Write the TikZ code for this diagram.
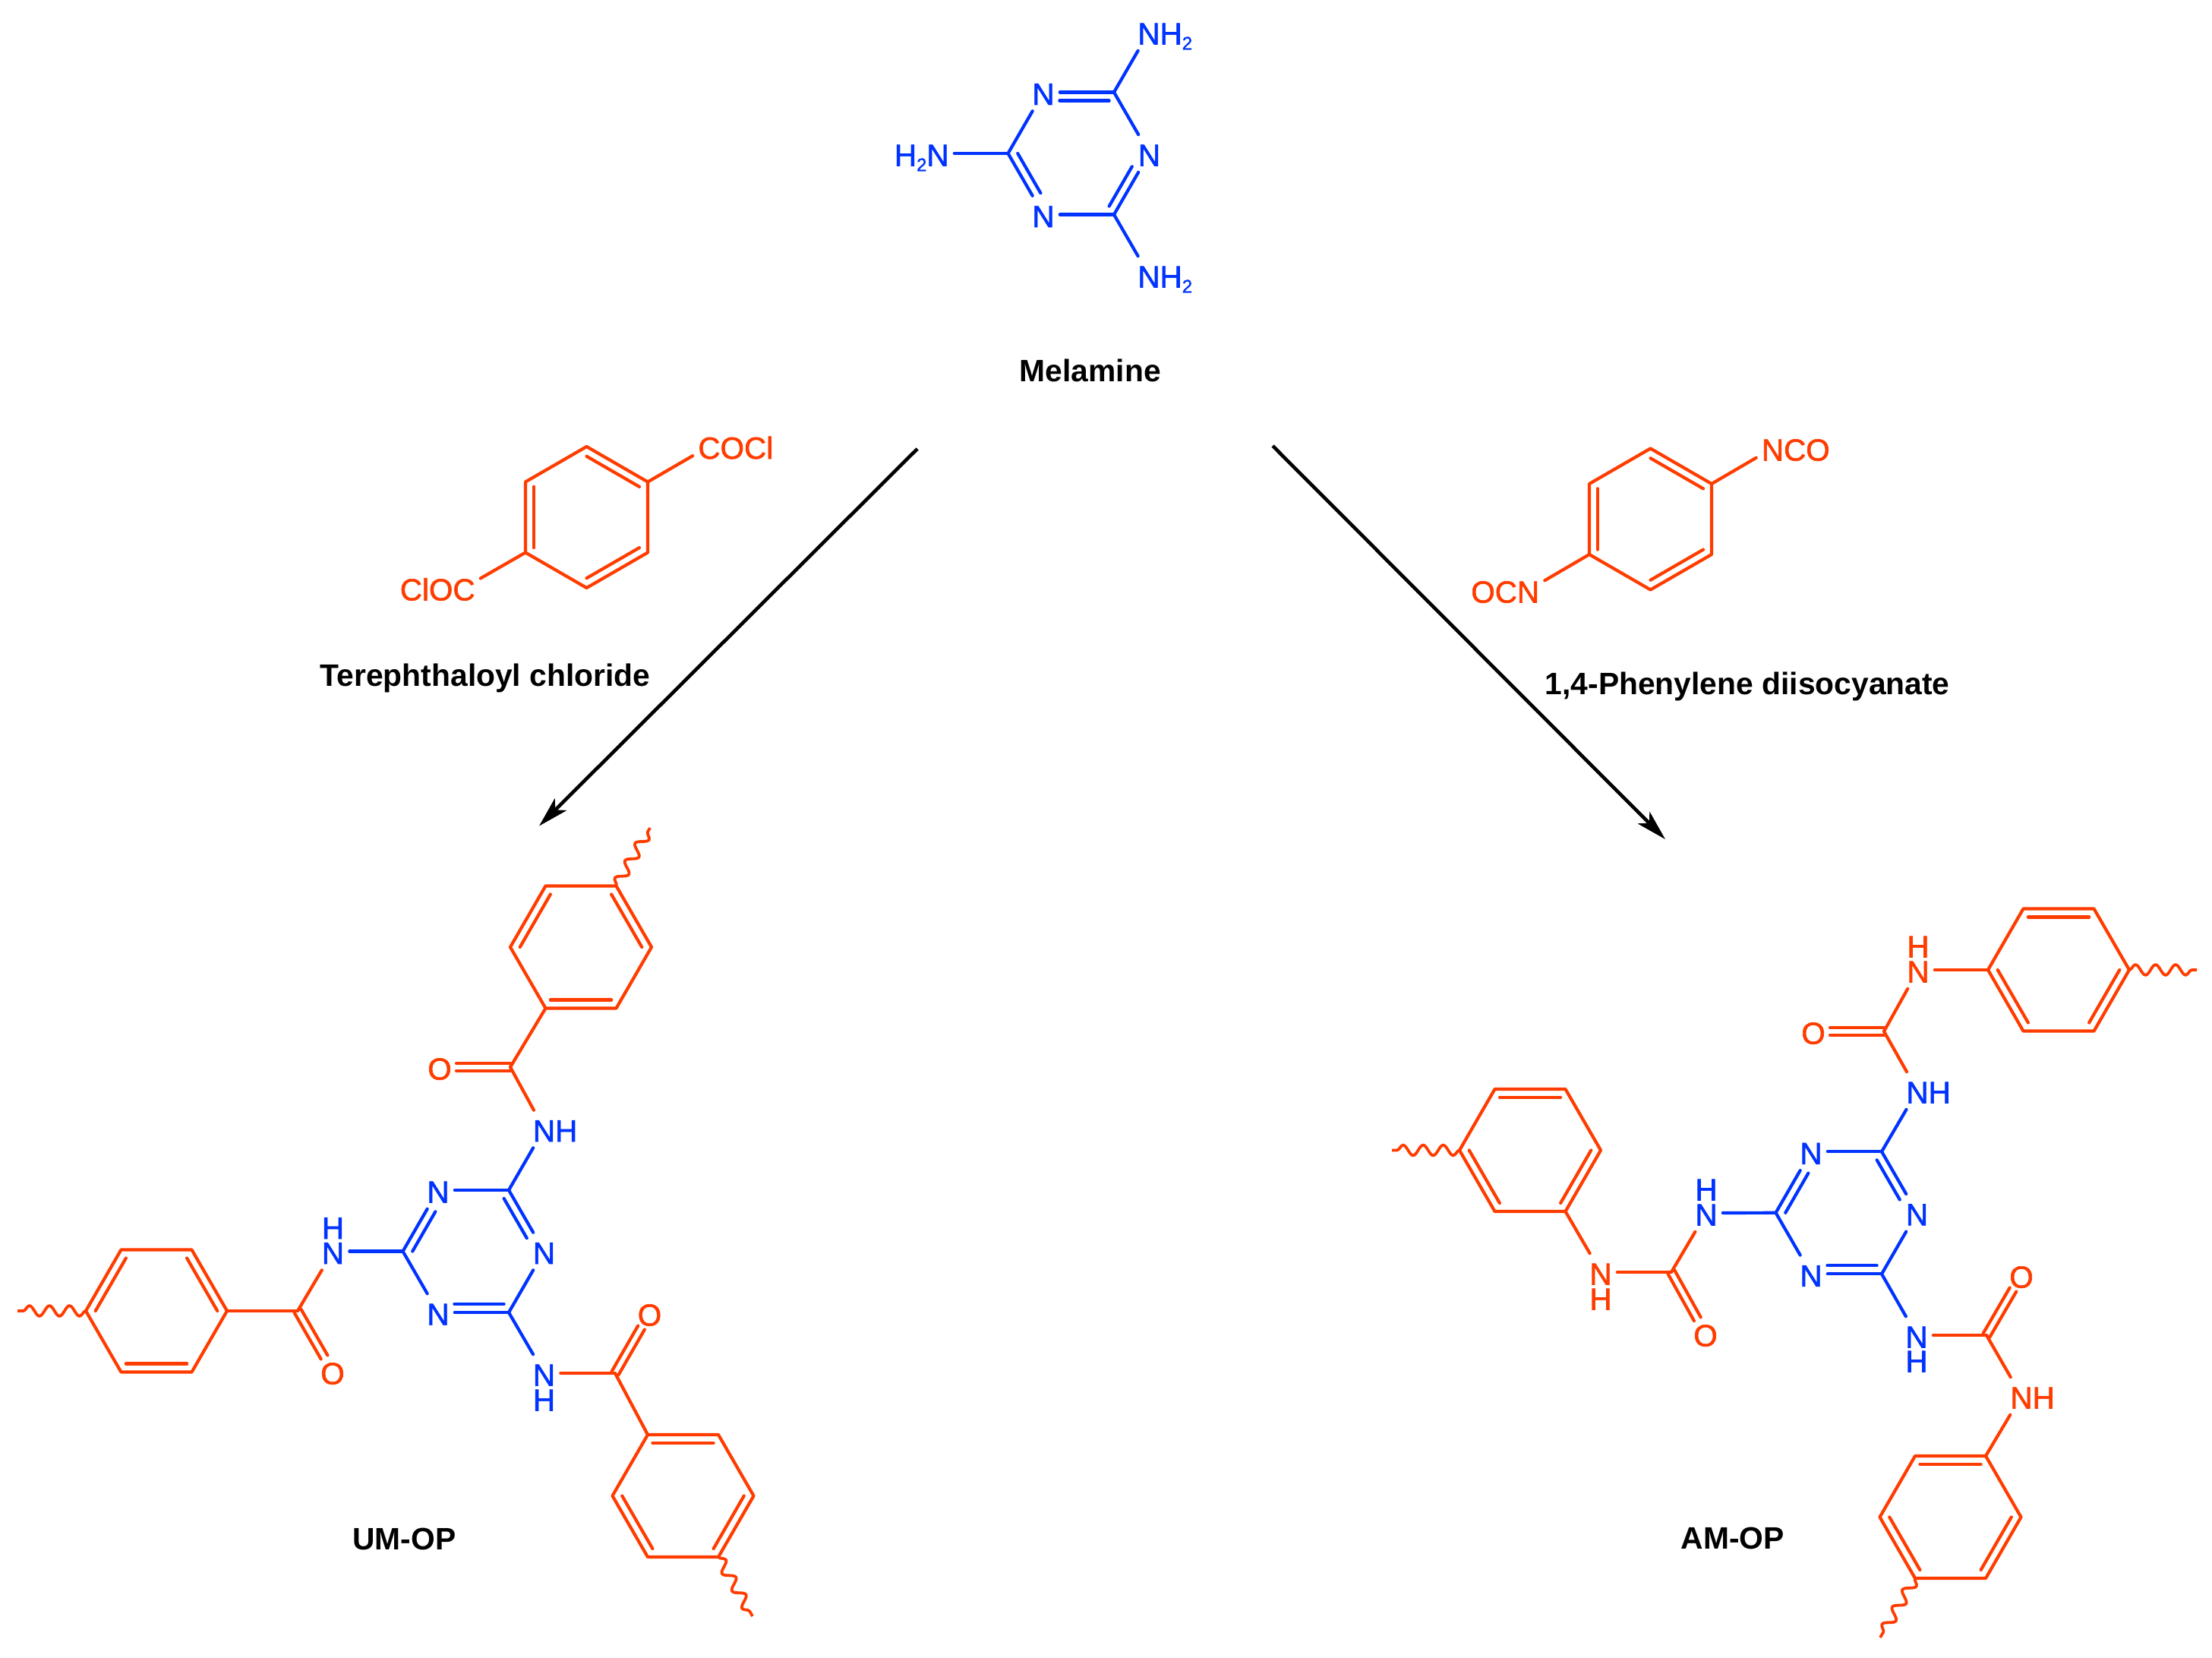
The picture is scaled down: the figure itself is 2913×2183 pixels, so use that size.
\documentclass[tikz,border=0pt]{standalone}
\usepackage{fontspec}
\setmainfont{Liberation Sans}
\newfontfamily\atomfont[FakeBold=1.5]{Liberation Sans}
\usetikzlibrary{calc,arrows.meta,decorations.pathmorphing}
\definecolor{molblue}{RGB}{0,51,255}
\definecolor{molred}{RGB}{255,60,0}
\tikzset{
  bb/.style={draw=molblue,line width=1.05pt,line cap=round,line join=round},
  rb/.style={draw=molred,line width=1.05pt,line cap=round,line join=round},
  atom/.style={rectangle,inner sep=0pt,minimum width=10.5pt,minimum height=12pt,text height=8.25pt,text depth=0pt,font=\fontsize{10.1pt}{12pt}\atomfont},
  batom/.style={atom,text=molblue},
  ratom/.style={atom,text=molred},
  title/.style={inner sep=0pt,anchor=base west,font=\fontsize{10.2pt}{12pt}\selectfont\bfseries,text=black},
  wave/.style={draw=molred,line width=0.95pt,decorate,decoration={snake,segment length=6.6pt,amplitude=1.7pt}},
  rxn/.style={draw=black,line width=1.15pt,-{Stealth[length=10pt,width=5.5pt,inset=2.5pt]}}
}
\newcommand{\hexa}[4]{\coordinate (#1) at (#2,#3);
  \foreach \i in {1,...,6} {\coordinate (#1\i) at ($(#1)+({#4+60*\i}:93)$);}}
\newcommand{\hexo}[1]{\draw[rb] (#11)--(#12)--(#13)--(#14)--(#15)--(#16)--cycle;}
\newcommand{\ringin}[4][rb]{\draw[#1] ($(#2)!0.863!(#2#3)$) -- ($(#2)!0.863!(#2#4)$);}
\newcommand{\cdouble}[2]{%
  \draw[rb,shorten >=5.5pt] ($(#1)!1.25pt!90:(#2.center)$) -- ($(#2.center)!1.25pt!-90:(#1)$);
  \draw[rb,shorten >=5.5pt] ($(#1)!1.25pt!-90:(#2.center)$) -- ($(#2.center)!1.25pt!90:(#1)$);}
\newcommand{\subtwo}{\raisebox{-1.7pt}{\fontsize{6pt}{6pt}\selectfont 2}}
\begin{document}
\begin{tikzpicture}[x=0.25pt,y=-0.25pt]
\useasboundingbox (0,0) rectangle (2913,2183);

% ---------- Melamine ----------
\hexa{m}{1420.5}{202}{0}
\node[batom] (mN4) at (m4) {N};
\node[batom] (mN6) at (m6) {N};
\node[batom] (mN2) at (m2) {N};
\node[batom] (mA) at (1513,42) {N\rlap{H\subtwo}};
\node[batom] (mB) at (1513,362) {N\rlap{H\subtwo}};
\node[batom] (mC) at (1235,202) {\llap{H\subtwo}N};
\draw[bb] (mN4) -- (m5);
\draw[bb] (m5) -- (mN6);
\draw[bb] (mN6) -- (m1);
\draw[bb] (m1) -- (mN2);
\draw[bb] (mN2) -- (m3);
\draw[bb] (m3) -- (mN4);
\draw[bb] (m5) -- (mA);
\draw[bb] (m1) -- (mB);
\draw[bb] (m3) -- (mC);
\draw[bb,shorten <=3.75pt] ($(m)!0.863!(m4)$) -- ($(m)!0.863!(m5)$);
\draw[bb,shorten >=5pt] ($(m)!0.863!(m3)$) -- ($(m)!0.863!(m2)$);
\draw[bb,shorten <=5pt] ($(m)!0.863!(m6)$) -- ($(m)!0.863!(m1)$);
\node[title] (lMel) at (1342,502) {Melamine};

% ---------- Terephthaloyl chloride ----------
\hexa{t}{772.5}{681}{30}
\hexo{t}
\ringin{t}{4}{5}
\ringin{t}{3}{2}
\ringin{t}{6}{1}
\node[ratom] (tA) at (934,587.5) {C\rlap{OCl}};
\node[ratom] (tB) at (611,774) {\llap{ClO}C};
\draw[rb] (t5) -- (tA);
\draw[rb] (t2) -- (tB);
\node[title] (lTer) at (421,903.6) {Terephthaloyl chloride};

% ---------- Isocyanate ----------
\hexa{c}{2173.5}{683.5}{30}
\hexo{c}
\ringin{c}{4}{5}
\ringin{c}{3}{2}
\ringin{c}{6}{1}
\node[ratom] (cA) at (2334.5,590) {N\rlap{CO}};
\node[ratom] (cB) at (2012.5,777) {\llap{OC}N};
\draw[rb] (c5) -- (cA);
\draw[rb] (c2) -- (cB);
\node[title] (lIso) at (2034,914) {1,4-Phenylene diisocyanate};

% ---------- Arrows ----------
\coordinate (aS) at (1208,591);
\coordinate (aE) at (710,1087.5);
\coordinate (bS) at (1676,587);
\coordinate (bE) at (2193,1105);
\draw[rxn] (aS) -- (aE);
\draw[rxn] (bS) -- (bE);

% ---------- UM-OP ----------
\hexa{u}{623.5}{1647.5}{0}
\node[batom] (uN4) at (u4) {N};
\node[batom] (uN6) at (u6) {N};
\node[batom] (uN2) at (u2) {N};
\draw[bb] (u5) -- (uN4);
\draw[bb] (uN4) -- (u3);
\draw[bb] (u3) -- (uN2);
\draw[bb] (uN2) -- (u1);
\draw[bb] (u1) -- (uN6);
\draw[bb] (uN6) -- (u5);
\draw[bb,shorten >=5pt] ($(u)!0.863!(u3)$) -- ($(u)!0.863!(u4)$);
\draw[bb,shorten >=5pt] ($(u)!0.863!(u5)$) -- ($(u)!0.863!(u6)$);
\draw[bb,shorten <=3.75pt] ($(u)!0.863!(u2)$) -- ($(u)!0.863!(u1)$);

% top arm
\node[batom] (uNa) at (716.5,1486.5) {N\rlap{H}};
\coordinate (uCa) at (672,1405);
\node[ratom] (uOa) at (579,1405) {O};
\hexa{ua}{765}{1247}{0}
\hexo{ua}
\ringin{ua}{3}{4}
\ringin{ua}{5}{6}
\ringin{ua}{2}{1}
\draw[bb] (u5) -- (uNa);
\draw[rb] (uNa) -- (uCa);
\draw[rb] (uCa) -- (ua2);
\cdouble{uCa}{uOa}
\coordinate (uWa) at (856,1090);
\draw[wave] (ua5) -- (uWa);

% left arm
\node[batom] (uNb) at (438.5,1647.5) {N};
\node[batom] (uHb) at (438.5,1614.5) {H};
\coordinate (uCb) at (392,1726);
\node[ratom] (uOb) at (438,1806) {O};
\hexa{ub}{206}{1726}{0}
\hexo{ub}
\ringin{ub}{5}{6}
\ringin{ub}{3}{4}
\ringin{ub}{1}{2}
\draw[bb] (u3) -- (uNb);
\draw[rb] (uNb) -- (uCb);
\draw[rb] (uCb) -- (ub6);
\cdouble{uCb}{uOb}
\coordinate (uWb) at (23,1726);
\draw[wave] (ub3) -- (uWb);

% bottom arm
\node[batom] (uNc) at (716.5,1808) {N};
\node[batom] (uHc) at (716.5,1841) {H};
\coordinate (uCc) at (810,1808);
\node[ratom] (uOc) at (855.5,1729) {O};
\hexa{uc}{899.5}{1969.5}{0}
\hexo{uc}
\ringin{uc}{4}{5}
\ringin{uc}{6}{1}
\ringin{uc}{3}{2}
\draw[bb] (u1) -- (uNc);
\draw[rb] (uNc) -- (uCc);
\draw[rb] (uCc) -- (uc4);
\cdouble{uCc}{uOc}
\coordinate (uWc) at (991,2128);
\draw[wave] (uc1) -- (uWc);
\node[title] (lUM) at (463.5,2040) {UM-OP};

% ---------- AM-OP ----------
\hexa{v}{2431.5}{1596.8}{0}
\node[batom] (vN4) at (v4) {N};
\node[batom] (vN6) at (v6) {N};
\node[batom] (vN2) at (v2) {N};
\draw[bb] (v5) -- (vN4);
\draw[bb] (vN4) -- (v3);
\draw[bb] (v3) -- (vN2);
\draw[bb] (vN2) -- (v1);
\draw[bb] (v1) -- (vN6);
\draw[bb] (vN6) -- (v5);
\draw[bb,shorten >=5pt] ($(v)!0.863!(v3)$) -- ($(v)!0.863!(v4)$);
\draw[bb,shorten >=5pt] ($(v)!0.863!(v5)$) -- ($(v)!0.863!(v6)$);
\draw[bb,shorten <=3.75pt] ($(v)!0.863!(v2)$) -- ($(v)!0.863!(v1)$);

% top arm
\node[batom] (vNa) at (2525,1436) {N\rlap{H}};
\coordinate (vCa) at (2481,1358);
\node[ratom] (vOa) at (2388,1358) {O};
\node[ratom] (vMa) at (2526,1277) {N};
\node[ratom] (vHa) at (2526,1244) {H};
\hexa{va}{2711}{1277}{0}
\hexo{va}
\ringin{va}{4}{5}
\ringin{va}{3}{2}
\ringin{va}{6}{1}
\draw[bb] (v5) -- (vNa);
\draw[rb] (vNa) -- (vCa);
\draw[rb] (vCa) -- (vMa);
\draw[rb] (vMa) -- (va3);
\cdouble{vCa}{vOa}
\coordinate (vWa) at (2893,1277);
\draw[wave] (va6) -- (vWa);

% left arm
\node[batom] (vNb) at (2247,1597) {N};
\node[batom] (vHb) at (2247,1564) {H};
\coordinate (vCb) at (2201,1675);
\node[ratom] (vOb) at (2246,1756) {O};
\node[ratom] (vMb) at (2108,1675) {N};
\node[ratom] (vIb) at (2108,1708) {H};
\hexa{vb}{2015}{1514.5}{0}
\hexo{vb}
\ringin{vb}{4}{5}
\ringin{vb}{6}{1}
\ringin{vb}{3}{2}
\draw[bb] (v3) -- (vNb);
\draw[rb] (vNb) -- (vCb);
\draw[rb] (vCb) -- (vMb);
\draw[rb] (vMb) -- (vb1);
\cdouble{vCb}{vOb}
\coordinate (vWb) at (1833,1514.5);
\draw[wave] (vb3) -- (vWb);

% bottom arm
\node[batom] (vNc) at (2524,1758) {N};
\node[batom] (vHc) at (2524,1790) {H};
\coordinate (vCc) at (2616,1758);
\node[ratom] (vOc) at (2662,1679) {O};
\node[ratom] (vMc) at (2662,1838) {N\rlap{H}};
\hexa{vc}{2568.5}{1997.5}{0}
\hexo{vc}
\ringin{vc}{4}{5}
\ringin{vc}{6}{1}
\ringin{vc}{3}{2}
\draw[bb] (v1) -- (vNc);
\draw[rb] (vNc) -- (vCc);
\draw[rb] (vCc) -- (vMc);
\draw[rb] (vMc) -- (vc5);
\cdouble{vCc}{vOc}
\coordinate (vWc) at (2476,2156);
\draw[wave] (vc2) -- (vWc);
\node[title] (lAM) at (2213,2039) {AM-OP};
\end{tikzpicture}
\end{document}
